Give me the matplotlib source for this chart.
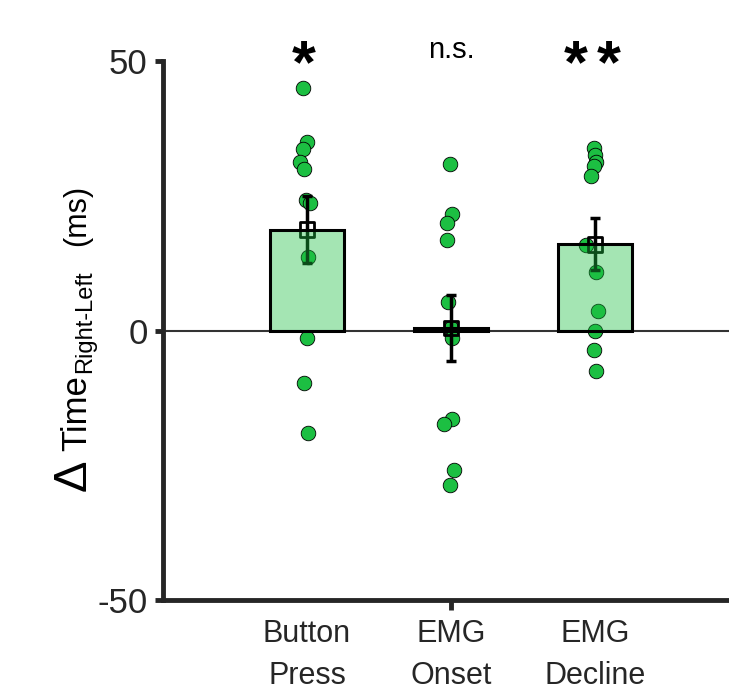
import numpy as np
import matplotlib
matplotlib.use("Agg")
import matplotlib.pyplot as plt

plt.rcParams['font.family'] = ['Liberation Sans', 'DejaVu Sans']

categories = ["Button\nPress", "EMG\nOnset", "EMG\nDecline"]
signif = ["*", "n.s.", "**"]
yticks = [-50, 0, 50]

# per-subject differences (ms)
button_press = [44.9, 34.9, 33.6, 31.2, 29.9, 24.3, 23.6, 13.7, -1.3, -9.8, -19.1]
emg_onset = [30.8, 21.7, 20.0, 16.7, 5.2, 0.5, -1.3, -16.5, -17.4, -25.8, -28.6]
emg_decline = [33.8, 32.5, 31.2, 30.6, 28.6, 15.8, 10.8, 3.7, 0.0, -3.7, -7.6]

# horizontal jitter of the dots
jit_press = [-0.03, 0.0, -0.03, -0.05, -0.02, -0.01, 0.02, 0.01, 0.0, -0.02, 0.01]
jit_onset = [-0.01, 0.01, -0.03, -0.03, -0.02, 0.0, 0.01, 0.01, -0.05, 0.02, -0.01]
jit_decline = [-0.01, 0.0, 0.01, -0.01, -0.03, -0.06, 0.01, 0.02, 0.0, -0.01, 0.01]

data = [button_press, emg_onset, emg_decline]
jitter = [jit_press, jit_onset, jit_decline]
xpos = np.arange(1, len(categories) + 1)

green = (0.11, 0.75, 0.26)
dark = '#262626'
fig = plt.figure(figsize=(7.29, 7.0), dpi=100)
ax = fig.add_axes([163 / 729, 100 / 700, 576 / 729, 539 / 700])

means = [np.mean(d) for d in data]
sems = [np.std(d, ddof=1) / np.sqrt(len(d)) for d in data]

ax.axhline(0, color='#333333', lw=1.5, zorder=1)
ax.errorbar(xpos, means, yerr=sems, fmt='none', ecolor='black', elinewidth=2.5,
            capsize=3.5, capthick=2.5, zorder=4)
for i in range(len(data)):
    ax.scatter(xpos[i] + np.array(jitter[i]), data[i], s=110, color=green,
               edgecolor='black', linewidth=0.6, zorder=3)
ax.scatter(xpos, means, marker='s', s=110, facecolor='none', edgecolor='black',
           linewidth=2, zorder=4)
ax.bar(xpos, means, width=0.51, color=green, alpha=0.4, zorder=5)
ax.bar(xpos, means, width=0.51, facecolor='none', edgecolor='black', linewidth=2.2, zorder=6)

# significance marks
for i, s in enumerate(signif):
    if s == "n.s.":
        ax.text(xpos[i], 50.5, s, ha='center', va='baseline', fontsize=21)
    else:
        n = len(s)
        offs = (np.arange(n) - (n - 1) / 2) * 0.23
        for o in offs:
            ax.text(xpos[i] + o - 0.02, 49, "*", ha='center', va='center',
                    fontsize=44, fontweight='bold')

ax.set_xlim(0, 4)
ax.set_ylim(-50, 50)
ax.set_yticks(yticks)
ax.set_yticklabels([str(v) for v in yticks])
ax.set_xticks(xpos)
ax.set_xticklabels(categories, fontsize=22, color=dark, linespacing=1.5)
ax.tick_params(axis='x', length=0, pad=14)
ax.xaxis.remove_overlapping_locs = False
ax.set_xticks([2], minor=True)
ax.tick_params(axis='x', which='minor', length=7, width=3.5, color=dark)
ax.tick_params(axis='y', length=6, width=3.5, labelsize=25, color=dark,
               labelcolor=dark, pad=5)
for side in ['top', 'right']:
    ax.spines[side].set_visible(False)
for side in ['left', 'bottom']:
    ax.spines[side].set_linewidth(3.5)
    ax.spines[side].set_color(dark)

# y label pieces: big delta, Time, subscript, unit
label_parts = [("\u0394", 491, 86, 34), ("Time", 451, 86, 25),
               ("Right-Left", 373, 91, 17), ("(ms)", 246, 85, 22)]
for txt, ybot, xbase, size in label_parts:
    fig.text(xbase / 729, 1 - ybot / 700, txt, rotation=90, rotation_mode='anchor',
             ha='left', va='baseline', fontsize=size, color='black')

fig.savefig("out.png", dpi=100)
